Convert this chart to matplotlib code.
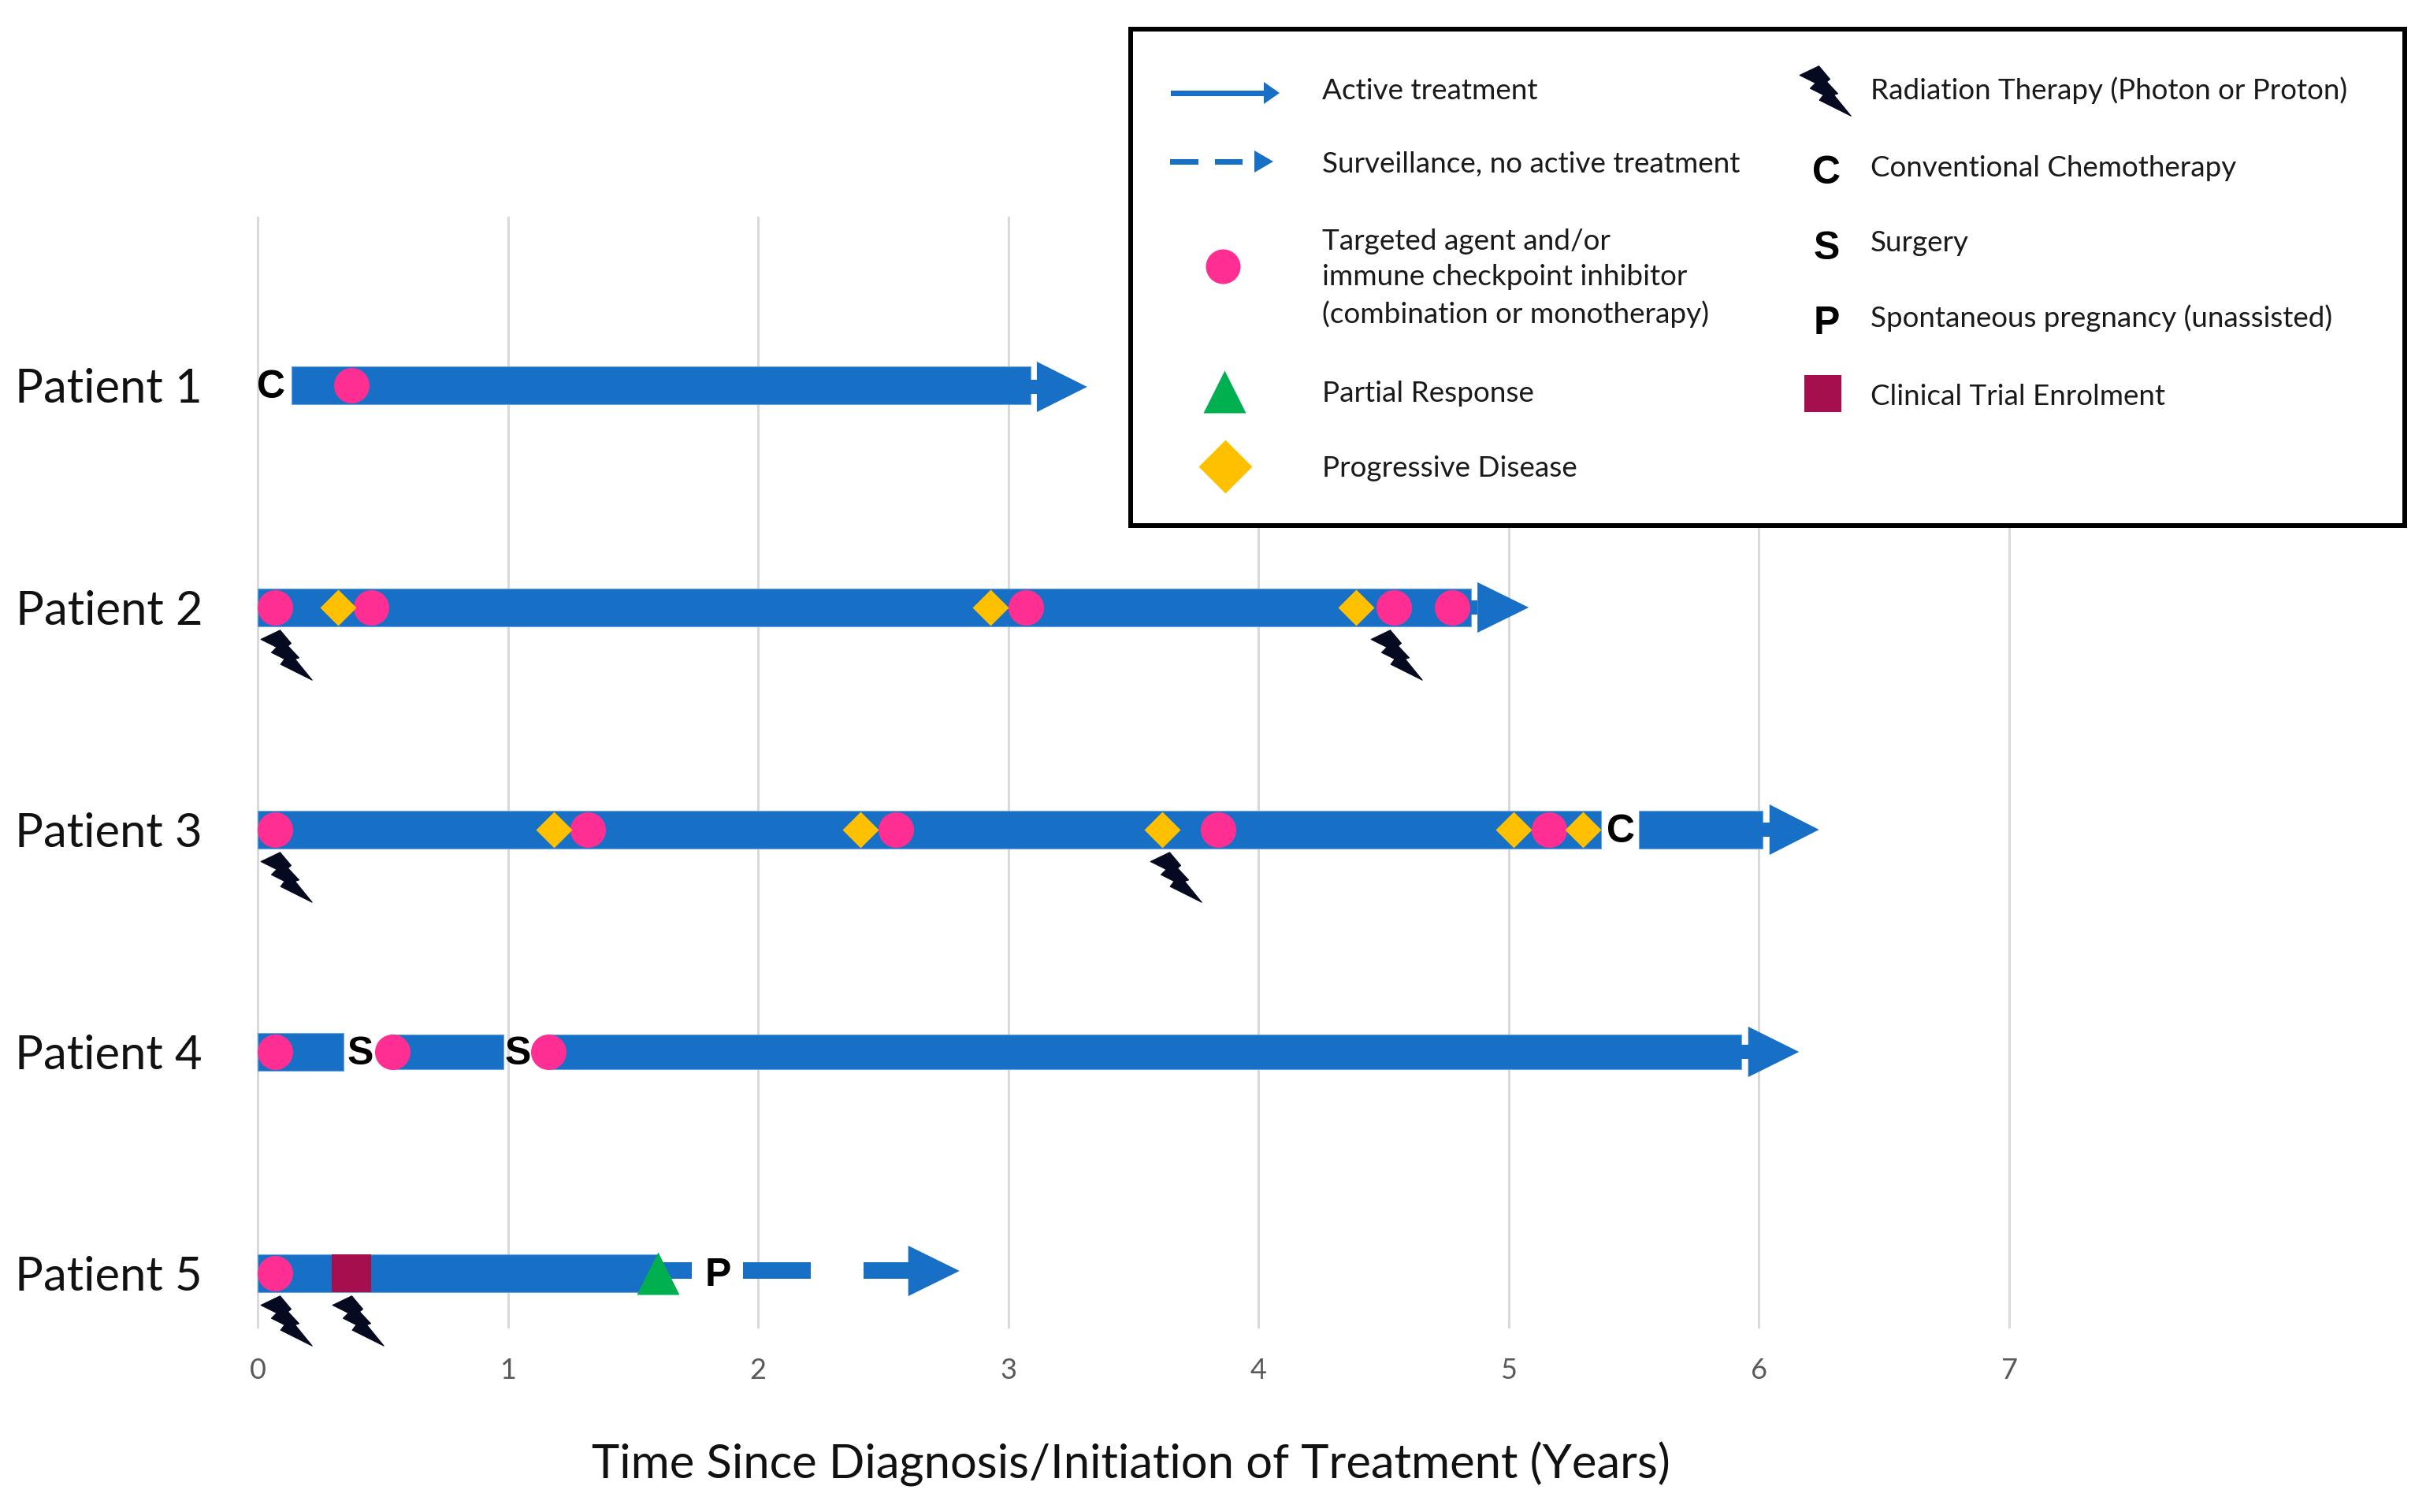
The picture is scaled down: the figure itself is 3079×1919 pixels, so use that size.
import matplotlib
matplotlib.use("Agg")
import matplotlib.pyplot as plt
from matplotlib.path import Path
from matplotlib.patches import Rectangle

plt.rcParams['font.family'] = ['Lato', 'DejaVu Sans']

W, H, DPI = 3079, 1919, 100
BLUE, PINK, GOLD, GREEN, MAROON, INK = '#1870C6', '#FF2E93', '#FFC000', '#00B050', '#A50F4E', '#050A20'

patients = ['Patient 1', 'Patient 2', 'Patient 3', 'Patient 4', 'Patient 5']
row_y = [489, 771, 1053, 1335, 1616]
year_ticks = [0, 1, 2, 3, 4, 5, 6, 7]

# bar segments per patient row: (row, start, end)
solid_bars = [(0, 0.135, 3.09), (1, 0, 4.85), (2, 0, 5.368), (2, 5.52, 6.014),
              (3, 0, 0.343), (4, 0, 1.60)]
narrow_bars = [(3, 0.538, 0.982), (3, 1.161, 5.93)]
thin_bars = [(4, 1.60, 1.735), (4, 1.94, 2.21), (4, 2.42, 2.61)]
# arrow heads: (row, neck start, base, tip)
heads = [(0, 3.08, 3.114, 3.315), (1, 4.84, 4.875, 5.08), (2, 6.00, 6.042, 6.24),
         (3, 5.92, 5.957, 6.16), (4, 2.60, 2.60, 2.805)]

targeted = [(0, 0.375), (1, 0.07), (1, 0.455), (1, 3.07), (1, 4.54), (1, 4.775),
            (2, 0.07), (2, 1.32), (2, 2.55), (2, 3.84), (2, 5.16),
            (3, 0.07), (3, 0.538), (3, 1.161), (4, 0.07)]
progressive = [(1, 0.32), (1, 2.93), (1, 4.39), (2, 1.185), (2, 2.41), (2, 3.615),
               (2, 5.018), (2, 5.296)]
partial_response = [(4, 1.60)]
trial_enrolment = [(4, 0.295, 0.455)]
radiation = [(1, 0.112), (1, 4.55), (2, 0.112), (2, 3.67), (4, 0.112), (4, 0.40)]
letters = [(0, 0.055, 'C'), (2, 5.447, 'C'), (3, 0.41, 'S'), (3, 1.04, 'S'), (4, 1.84, 'P')]

legend_left = [('Active treatment', 115), ('Surveillance, no active treatment', 209),
               ('Targeted agent and/or\nimmune checkpoint inhibitor\n(combination or monotherapy)', 353),
               ('Partial Response', 499), ('Progressive Disease', 594)]
legend_right = [('Radiation Therapy (Photon or Proton)', 115), ('Conventional Chemotherapy', 213),
                ('Surgery', 308), ('Spontaneous pregnancy (unassisted)', 404),
                ('Clinical Trial Enrolment', 503)]
legend_letters = [('C', 220), ('S', 316), ('P', 411)]

PX = 72 / DPI
BOLT = [(155, 275), (228, 240), (270, 290), (258, 300), (300, 345), (285, 350), (350, 430),
        (230, 370), (245, 350), (195, 325), (215, 305), (155, 275)]
bolt_path = Path([((x - 252) / 3, -(y - 335) / 3) for x, y in BOLT], closed=True)
BOLT_S = (2 * 32.7 * PX) ** 2


def size(px):
    return (px * PX) ** 2


fig = plt.figure(figsize=(W / DPI, H / DPI), dpi=DPI, facecolor='white')
L, R, T, B = 327, 2550, 276, 1684
ax = fig.add_axes([L / W, 1 - B / H, (R - L) / W, (B - T) / H])
ax.set_xlim(0, 7)
ax.set_ylim(B, T)
for s in ax.spines.values():
    s.set_visible(False)
ax.set_axisbelow(True)
ax.set_xticks(year_ticks)
ax.set_yticks(row_y, patients)
ax.tick_params(axis='both', length=0)
ax.tick_params(axis='x', pad=39 * PX, labelsize=26, labelcolor='#595959')
ax.tick_params(axis='y', pad=70 * PX, labelsize=43, labelcolor='#111111')
ax.grid(axis='x', color='#D9D9D9', lw=3 * PX)
for gl in ax.get_xgridlines():
    gl.set_clip_on(False)
ax.set_xlabel('Time Since Diagnosis/Initiation of Treatment (Years)', fontsize=43,
              labelpad=53, color='#111111', x=0.4985)

for r, a, b in solid_bars:
    ax.barh(row_y[r], b - a, left=a, height=48, color=BLUE, edgecolor='#6FA5DE', lw=0.8, zorder=2)
for r, a, b in narrow_bars:
    ax.barh(row_y[r], b - a, left=a, height=44, color=BLUE, edgecolor='#6FA5DE', lw=0.8, zorder=2)
for r, a, b in thin_bars:
    ax.barh(row_y[r] - 4, b - a, left=a, height=21, color=BLUE, zorder=2)
for r, n, a, b in heads:
    yc = row_y[r] + (2 if r == 0 else -3 if r == 4 else 0)
    if n < a:
        ax.barh(yc, a - n, left=n, height=18, color=BLUE, zorder=2)
    ax.fill([a, b, a], [yc - 32, yc, yc + 32], color=BLUE, lw=0, zorder=2)
for r, a, b in trial_enrolment:
    ax.barh(row_y[r], b - a, left=a, height=48, color=MAROON, zorder=3)

ax.scatter([x for r, x in targeted], [row_y[r] for r, x in targeted], s=size(45),
           color=PINK, lw=0, zorder=4)
ax.scatter([x for r, x in progressive], [row_y[r] for r, x in progressive], s=size(32.5),
           marker='D', color=GOLD, lw=0, zorder=4)
ax.scatter([x for r, x in partial_response], [row_y[r] for r, x in partial_response], s=size(54),
           marker='^', color=GREEN, lw=0, zorder=4)
ax.scatter([x for r, x in radiation], [row_y[r] + 60 for r, x in radiation], s=BOLT_S,
           marker=bolt_path, color=INK, edgecolor=INK, lw=0.8, zorder=5, clip_on=False)
for r, x, t in letters:
    ax.text(x, row_y[r] + 3, t, ha='center', va='center', fontsize=36, fontweight='bold',
            family=['Liberation Sans'], color='#000000', zorder=5)

# legend box in pixel coordinates
lx0, lx1, ly0, ly1 = 1435, 3052, 37, 667
lg = fig.add_axes([lx0 / W, 1 - ly1 / H, (lx1 - lx0) / W, (ly1 - ly0) / H], zorder=10)
lg.set_xlim(lx0, lx1)
lg.set_ylim(ly1, ly0)
lg.set_xticks([])
lg.set_yticks([])
for s in lg.spines.values():
    s.set_linewidth(6 * PX)
    s.set_color('black')

lg.add_patch(Rectangle((1486, 115), 120, 7, color=BLUE, lw=0))
lg.fill([1604, 1624, 1604], [104, 118, 132], color=BLUE, lw=0)
lg.add_patch(Rectangle((1485, 202), 36, 7, color=BLUE, lw=0))
lg.add_patch(Rectangle((1542, 202), 35, 7, color=BLUE, lw=0))
lg.fill([1592, 1616, 1592], [191, 205, 219], color=BLUE, lw=0)
lg.scatter([1552], [338], s=size(44), color=PINK, lw=0)
lg.scatter([1554], [497], s=size(54), marker='^', color=GREEN, lw=0)
lg.scatter([1555], [592], s=size(48), marker='D', color=GOLD, lw=0)
lg.scatter([2316], [115], s=BOLT_S, marker=bolt_path, color=INK, edgecolor=INK, lw=0.8)
lg.add_patch(Rectangle((2290, 476), 47, 47, color=MAROON, lw=0))

for t, y in legend_left:
    lg.text(1678, y, t, ha='left', va='center', fontsize=26.6, color='#1A1A1A', linespacing=1.45)
for t, y in legend_right:
    lg.text(2374, y, t, ha='left', va='center', fontsize=26.5, color='#1A1A1A')
for t, y in legend_letters:
    lg.text(2318, y, t, ha='center', va='center', fontsize=36, fontweight='bold',
            family=['Liberation Sans'], color='black')

fig.savefig('out.png', dpi=DPI, facecolor='white')
